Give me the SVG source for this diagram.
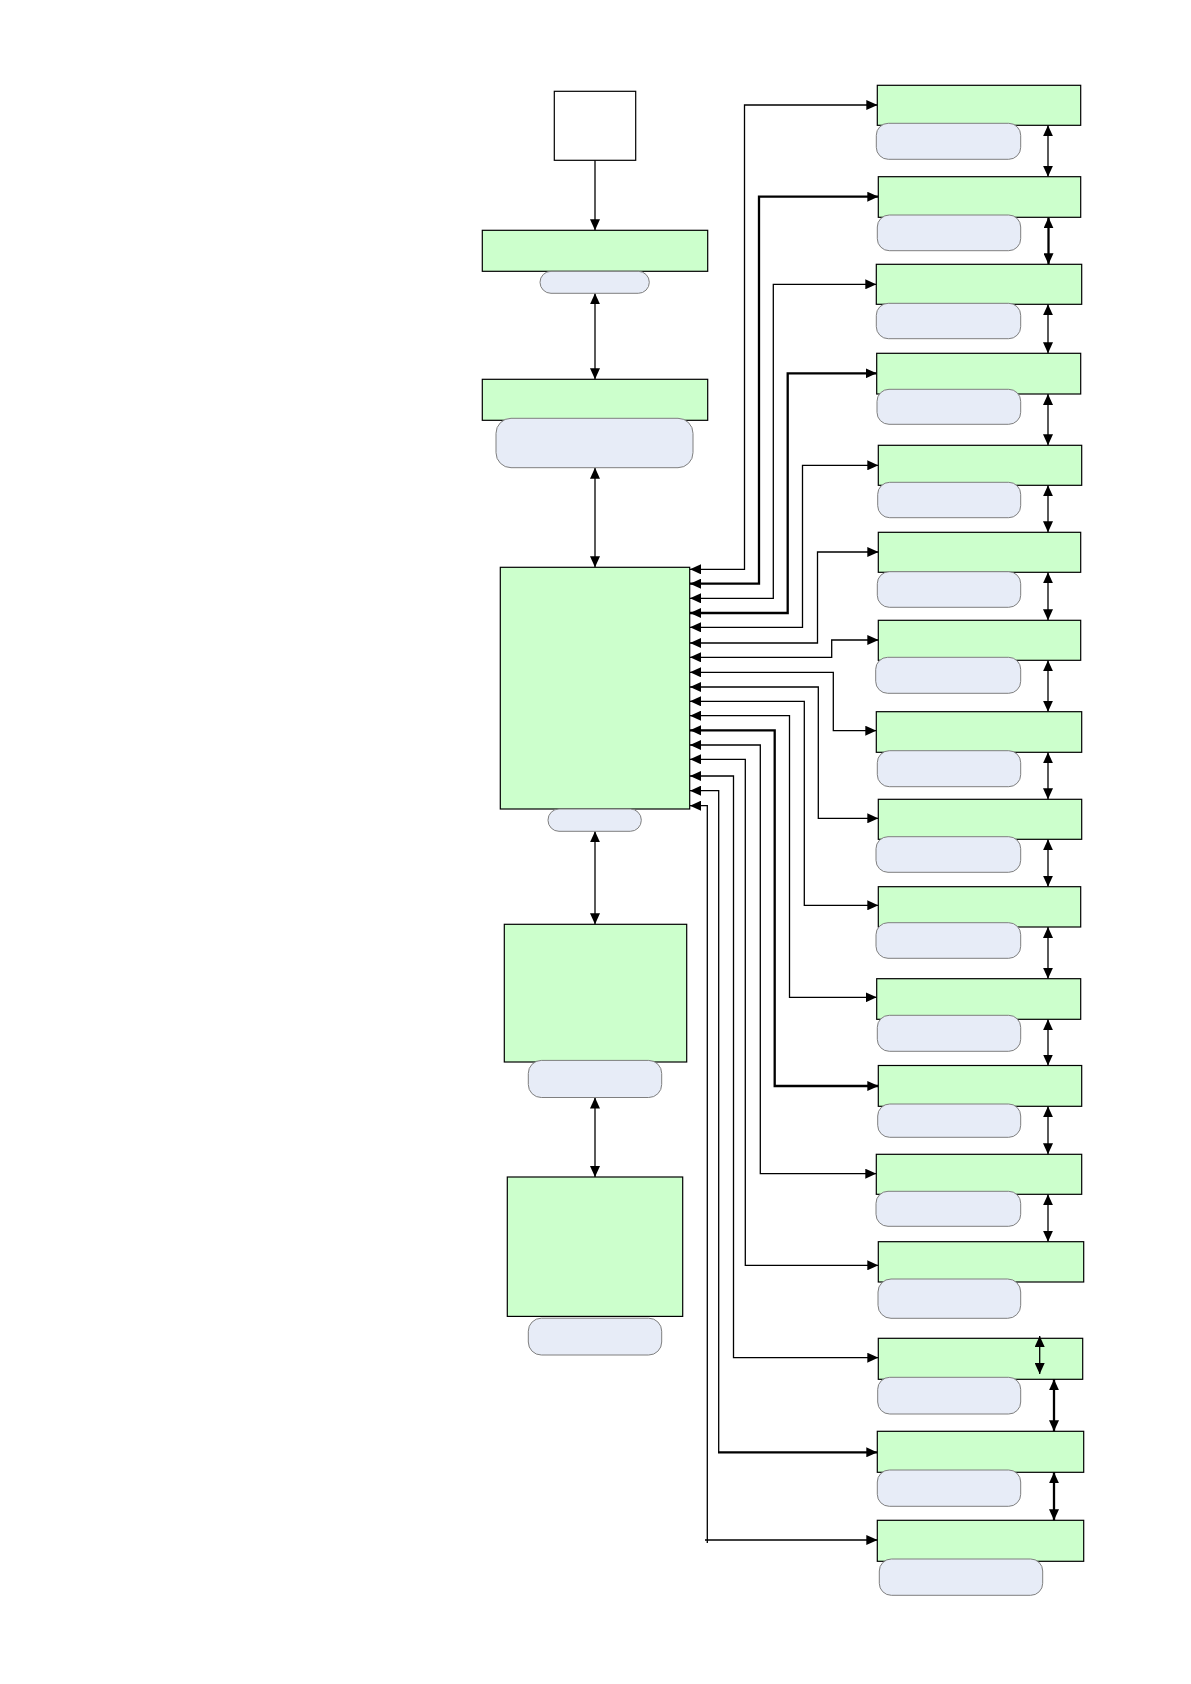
<svg xmlns="http://www.w3.org/2000/svg" width="1191" height="1684" viewBox="0 0 1191 1684">
<style>
.box{fill:#CCFFCC;stroke:#000;stroke-width:1.2}
.wbox{fill:#fff;stroke:#000;stroke-width:1.2}
.pill{fill:#E7ECF7;stroke:#7F7F7F;stroke-width:1}
.ln{fill:none;stroke:#000;stroke-width:1.3}
.th{stroke-width:2.3}
.s{marker-end:url(#ah)}
.b{marker-start:url(#ah)}
.d{marker-start:url(#ah);marker-end:url(#ah)}
</style>
<defs>
<marker id="ah" markerUnits="userSpaceOnUse" markerWidth="11" markerHeight="10" refX="11" refY="5" orient="auto-start-reverse">
<path d="M0,0 L11,5 L0,10 z" fill="#000"/>
</marker>
</defs>
<rect width="1191" height="1684" fill="#fff"/>

<g id="connectors">
<line class="ln s" x1="595" y1="160.3" x2="595" y2="230.3"/>
<line class="ln d" x1="595" y1="293.3" x2="595" y2="379.3"/>
<line class="ln d" x1="595" y1="467.7" x2="595" y2="567.3"/>
<line class="ln d" x1="595" y1="831.3" x2="595" y2="924.3"/>
<line class="ln d" x1="595" y1="1097.5" x2="595" y2="1177"/>

<polyline class="ln d" points="690,569.3 744.5,569.3 744.5,105 877.3,105"/>
<polyline class="ln th d" points="690,583.7 759,583.7 759,196.7 878.3,196.7"/>
<polyline class="ln d" points="690,598.3 773.3,598.3 773.3,284.3 876.3,284.3"/>
<polyline class="ln th d" points="690,613 787.7,613 787.7,373.3 876.7,373.3"/>
<polyline class="ln d" points="690,627.3 802.5,627.3 802.5,465.3 878.3,465.3"/>
<polyline class="ln d" points="690,643 817.5,643 817.5,552 878.3,552"/>
<polyline class="ln d" points="690,657.3 831.7,657.3 831.7,640 878.3,640"/>
<polyline class="ln d" points="690,672.3 833.3,672.3 833.3,730.7 876.3,730.7"/>
<polyline class="ln d" points="690,687 818.3,687 818.3,818.3 878.3,818.3"/>
<polyline class="ln d" points="690,701.3 804.3,701.3 804.3,905.3 878.3,905.3"/>
<polyline class="ln d" points="690,715.7 789.5,715.7 789.5,997.3 876.7,997.3"/>
<polyline class="ln th d" points="690,730.3 774.7,730.3 774.7,1086 878.3,1086"/>
<polyline class="ln d" points="690,745 760.3,745 760.3,1173.7 876.3,1173.7"/>
<polyline class="ln d" points="690,759.3 745.3,759.3 745.3,1265.3 878.3,1265.3"/>
<polyline class="ln d" points="690,776 733.5,776 733.5,1357.7 878.3,1357.7"/>
<polyline class="ln b" points="690,790.7 718.7,790.7 718.7,1452.3"/>
<line class="ln th s" x1="718" y1="1452.3" x2="877.3" y2="1452.3"/>
<polyline class="ln b" points="690,805.7 707.3,805.7 707.3,1543"/>
<line class="ln s" x1="705" y1="1540" x2="877.3" y2="1540"/>

<line class="ln d" x1="1048" y1="125.3" x2="1048" y2="176.7"/>
<line class="ln th d" x1="1048.5" y1="217.3" x2="1048.5" y2="264.3"/>
<line class="ln d" x1="1048" y1="304.3" x2="1048" y2="353.3"/>
<line class="ln d" x1="1048" y1="394" x2="1048" y2="445.3"/>
<line class="ln d" x1="1048" y1="485.3" x2="1048" y2="532.3"/>
<line class="ln d" x1="1048" y1="572.3" x2="1048" y2="620.3"/>
<line class="ln d" x1="1048" y1="660.3" x2="1048" y2="711.7"/>
<line class="ln d" x1="1048" y1="752.3" x2="1048" y2="799.3"/>
<line class="ln d" x1="1048" y1="839.3" x2="1048" y2="886.7"/>
<line class="ln d" x1="1048" y1="927" x2="1048" y2="978.7"/>
<line class="ln d" x1="1048" y1="1019.3" x2="1048" y2="1065.5"/>
<line class="ln d" x1="1048" y1="1106.3" x2="1048" y2="1154.3"/>
<line class="ln d" x1="1048" y1="1194.3" x2="1048" y2="1241.7"/>
</g>

<g id="source"><rect class="wbox" x="554.3" y="91.3" width="81.4" height="69"/></g>
<g id="node-l1"><rect class="box" x="482.3" y="230.3" width="225.4" height="41"/><rect class="pill" x="540" y="271.3" width="109.3" height="22" rx="11"/></g>
<g id="node-l2"><rect class="box" x="482.3" y="379.3" width="225.4" height="41"/><rect class="pill" x="496" y="418.3" width="197" height="49.4" rx="15"/></g>
<g id="node-main"><rect class="box" x="500.3" y="567.3" width="189.4" height="241.7"/><rect class="pill" x="548" y="809" width="93.3" height="22.3" rx="11"/></g>
<g id="node-l4"><rect class="box" x="504.3" y="924.3" width="182.4" height="137.7"/><rect class="pill" x="528.3" y="1060.4" width="133.4" height="37.1" rx="13"/></g>
<g id="node-l5"><rect class="box" x="507.3" y="1177" width="175.4" height="139.4"/><rect class="pill" x="528.3" y="1318.2" width="133.4" height="36.8" rx="13"/></g>

<g id="node-r1"><rect class="box" x="877.3" y="85.3" width="203.4" height="40"/><rect class="pill" x="876.3" y="123.3" width="144.4" height="36" rx="12"/></g>
<g id="node-r2"><rect class="box" x="878.3" y="176.7" width="202.4" height="40.6"/><rect class="pill" x="877.3" y="215" width="143.4" height="35.7" rx="12"/></g>
<g id="node-r3"><rect class="box" x="876.3" y="264.3" width="205.4" height="40"/><rect class="pill" x="876.3" y="303.3" width="144.4" height="35.4" rx="12"/></g>
<g id="node-r4"><rect class="box" x="876.7" y="353.3" width="204" height="40.7"/><rect class="pill" x="877" y="389.3" width="143.7" height="35" rx="12"/></g>
<g id="node-r5"><rect class="box" x="878.3" y="445.3" width="203.4" height="40"/><rect class="pill" x="877.7" y="482.3" width="143" height="35.4" rx="12"/></g>
<g id="node-r6"><rect class="box" x="878.3" y="532.3" width="202.4" height="40"/><rect class="pill" x="877.3" y="571.7" width="143.4" height="35.6" rx="12"/></g>
<g id="node-r7"><rect class="box" x="878.3" y="620.3" width="202.4" height="40"/><rect class="pill" x="875.7" y="657.3" width="145" height="36" rx="12"/></g>
<g id="node-r8"><rect class="box" x="876.3" y="711.7" width="205.4" height="40.6"/><rect class="pill" x="877.3" y="750.7" width="143.4" height="36" rx="12"/></g>
<g id="node-r9"><rect class="box" x="878.3" y="799.3" width="203.4" height="40"/><rect class="pill" x="876" y="836.7" width="144.7" height="35.6" rx="12"/></g>
<g id="node-r10"><rect class="box" x="878.3" y="886.7" width="202.4" height="40.3"/><rect class="pill" x="876" y="922.7" width="144.7" height="35.6" rx="12"/></g>
<g id="node-r11"><rect class="box" x="876.7" y="978.7" width="204" height="40.6"/><rect class="pill" x="877.3" y="1015.3" width="143.4" height="36" rx="12"/></g>
<g id="node-r12"><rect class="box" x="878.3" y="1065.5" width="203.4" height="40.8"/><rect class="pill" x="877.7" y="1104" width="143" height="33.3" rx="12"/></g>
<g id="node-r13"><rect class="box" x="876.3" y="1154.3" width="205.4" height="40"/><rect class="pill" x="876" y="1191.3" width="144.7" height="35" rx="12"/></g>
<g id="node-r14"><rect class="box" x="878.3" y="1241.7" width="205.4" height="40.3"/><rect class="pill" x="878" y="1279" width="142.7" height="39.3" rx="13"/></g>
<g id="node-r15"><rect class="box" x="878.3" y="1338.3" width="204.4" height="41"/><rect class="pill" x="877.7" y="1377.3" width="143" height="36.7" rx="12"/></g>
<g id="node-r16"><rect class="box" x="877.3" y="1431.3" width="206.4" height="41"/><rect class="pill" x="877.3" y="1470" width="143.4" height="36.3" rx="12"/></g>
<g id="node-r17"><rect class="box" x="877.3" y="1520.3" width="206.4" height="41"/><rect class="pill" x="879.3" y="1559" width="163.4" height="36.3" rx="12"/></g>

<g id="connectors-right">
<line class="ln d" x1="1039.7" y1="1336" x2="1039.7" y2="1374"/>
<line class="ln th d" x1="1054" y1="1379.3" x2="1054" y2="1431.3"/>
<line class="ln th d" x1="1054" y1="1472.3" x2="1054" y2="1520.3"/>
</g>
</svg>
